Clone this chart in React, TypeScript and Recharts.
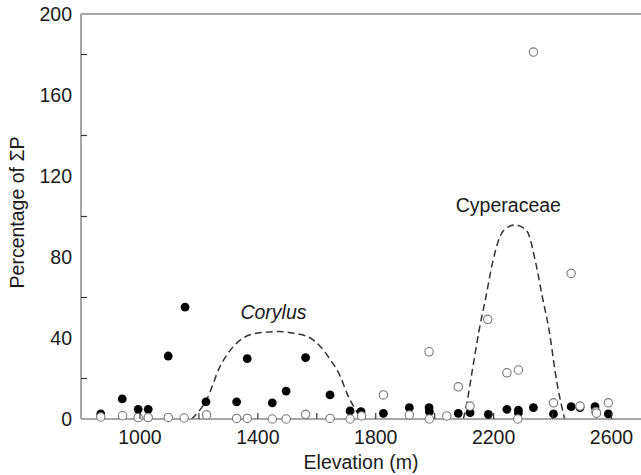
import { ComposedChart, Scatter, Line, XAxis, YAxis, ReferenceLine, ReferenceDot } from "recharts"

// filled circles (elevation m, % of ΣP)
const filledElev = [867, 940, 994, 1028, 1096, 1153, 1224, 1328, 1364, 1449, 1496, 1562, 1645, 1713, 1750, 1826, 1914, 1981, 1982, 2080, 2120, 2182, 2245, 2284, 2284, 2335, 2403, 2463, 2493, 2544, 2589]
const filledPct = [2.5, 9.9, 4.8, 4.8, 31.1, 55.2, 8.5, 8.5, 29.8, 8, 13.8, 30.3, 11.9, 4, 3.6, 2.8, 5.6, 5.6, 3.6, 2.8, 3.1, 2.3, 4.8, 4.4, 3, 5.6, 2.5, 6.1, 5.6, 6.1, 2.5]

// open circles
const openElev = [867, 941, 994, 1028, 1096, 1150, 1226, 1328, 1364, 1449, 1496, 1562, 1645, 1713, 1752, 1826, 1914, 1982, 1981, 2041, 2080, 2120, 2180, 2245, 2284, 2282, 2335, 2403, 2463, 2493, 2547, 2549, 2589]
const openPct = [1, 1.6, 0.7, 0.7, 0.8, 0.5, 2, 0.3, 0.3, 0, 0, 2.3, 0.3, 0, 1.5, 11.9, 2, 0, 33.2, 1.5, 15.9, 6.4, 49.2, 22.8, 24.2, 0, 181.2, 8, 71.9, 6.4, 3.6, 2.9, 8]

// dashed response curves
const corylusElev = [1175, 1226, 1272, 1317, 1374, 1430, 1472, 1521, 1578, 1612, 1646, 1680, 1702, 1725, 1742, 1750]
const corylusPct = [0, 9.5, 26, 35.8, 41.6, 42.9, 43.2, 42.4, 40, 35.8, 29.3, 21, 12.8, 6.2, 2.1, 0]
const cyperElev = [2097, 2106, 2128, 2151, 2174, 2196, 2233, 2272, 2312, 2343, 2365, 2388, 2413, 2441]
const cyperPct = [0, 5.4, 24.3, 44, 60.5, 77, 93, 95.8, 93, 77, 60.5, 44, 19.4, 0]

const xTicks = [1000, 1200, 1400, 1600, 1800, 2000, 2200, 2400, 2600]
const yTicks = [0, 20, 40, 60, 80, 100, 120, 140, 160, 180, 200]

const pairs = (xs: number[], ys: number[]) => xs.map((x, i) => ({ x, y: ys[i] }))
const filled = pairs(filledElev, filledPct)
const open = pairs(openElev, openPct)
const corylus = pairs(corylusElev, corylusPct)
const cyper = pairs(cyperElev, cyperPct)

const FONT = 19.5
const AXIS = "#8a8a8a"
const INK = "#1a1a1a"

const YTick = (p: any) => {
  const v = p.payload.value
  if (v % 40 === 0) {
    return (
      <text x={p.x - 9} y={p.y} dy="0.35em" textAnchor="end" fontSize={FONT} fill={INK}>
        {v}
      </text>
    )
  }
  return <line x1={p.x} x2={p.x + 6} y1={p.y} y2={p.y} stroke="#333" strokeWidth={1.2} />
}

const XTick = (p: any) => {
  const v = p.payload.value
  return (
    <g>
      <line x1={p.x} x2={p.x} y1={p.y} y2={p.y - 6} stroke="#333" strokeWidth={1.2} />
      {v % 400 === 200 && (
        <text x={p.x} y={p.y + 25} textAnchor="middle" fontSize={FONT} fill={INK}>
          {v}
        </text>
      )}
    </g>
  )
}

const yTitle = ({ viewBox }: any) => (
  <text
    transform={`translate(${viewBox.x + 24},${viewBox.y + viewBox.height / 2 - 4}) rotate(-90)`}
    textAnchor="middle"
    fontSize={FONT}
    fill={INK}
  >
    Percentage of ΣP
  </text>
)

const xTitle = ({ viewBox }: any) => (
  <text x={viewBox.x + viewBox.width / 2} y={viewBox.y + 50} textAnchor="middle" fontSize={FONT} fill={INK}>
    Elevation (m)
  </text>
)

const curveName = (name: string, italic: boolean) => ({ viewBox }: any) => (
  <text x={viewBox.x} y={viewBox.y} dy="0.35em" textAnchor="middle" fontSize={FONT} fill={INK} fontStyle={italic ? "italic" : "normal"}>
    {name}
  </text>
)

const dotFilled = (p: any) => <circle cx={p.cx} cy={p.cy} r={4.4} fill="#000" />
const dotOpen = (p: any) => <circle cx={p.cx} cy={p.cy} r={4.2} fill="#fff" stroke="#777" strokeWidth={1.1} />

export default function App() {
  return (
    <div style={{ position: "absolute", left: 0, top: 0, width: 641, height: 475, overflow: "hidden", fontFamily: "'Liberation Sans', Arial, sans-serif" }}>
      <ComposedChart width={641} height={475} margin={{ top: 14, right: 0, bottom: 0, left: 0 }}>
        <XAxis
          dataKey="x"
          type="number"
          domain={[800, 2700]}
          ticks={xTicks}
          interval={0}
          height={56}
          tickSize={0}
          tickMargin={0}
          tickLine={false}
          axisLine={{ stroke: AXIS, strokeWidth: 1.5 }}
          tick={XTick}
          label={xTitle}
        />
        <YAxis
          dataKey="y"
          type="number"
          domain={[0, 200]}
          ticks={yTicks}
          interval={0}
          width={81}
          tickSize={0}
          tickMargin={0}
          tickLine={false}
          axisLine={{ stroke: AXIS, strokeWidth: 1.5 }}
          tick={YTick}
          label={yTitle}
        />
        <ReferenceLine y={200} stroke={AXIS} strokeWidth={1.5} />
        <Line data={corylus} dataKey="y" type="monotone" stroke="#333" strokeWidth={1.5} strokeDasharray="7 4" dot={false} activeDot={false} isAnimationActive={false} />
        <Line data={cyper} dataKey="y" type="monotone" stroke="#333" strokeWidth={1.5} strokeDasharray="7 4" dot={false} activeDot={false} isAnimationActive={false} />
        <Scatter data={filled} shape={dotFilled} isAnimationActive={false} />
        <Scatter data={open} shape={dotOpen} isAnimationActive={false} />
        <ReferenceDot x={1453} y={52.7} r={0} fill="none" stroke="none" label={curveName("Corylus", true)} />
        <ReferenceDot x={2250} y={105.4} r={0} fill="none" stroke="none" label={curveName("Cyperaceae", false)} />
      </ComposedChart>
    </div>
  )
}
